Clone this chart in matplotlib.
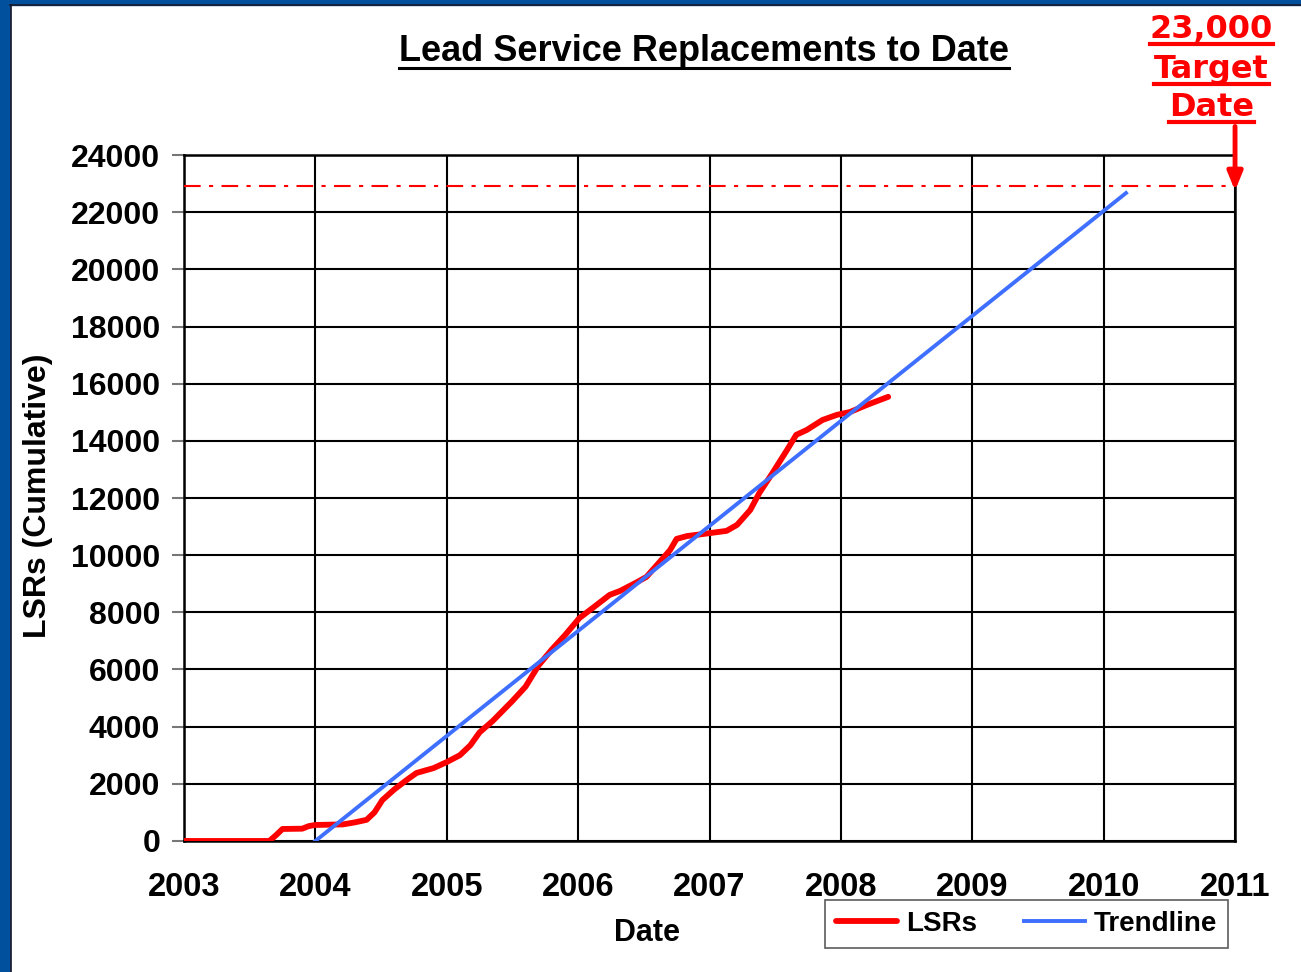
import matplotlib
matplotlib.use("Agg")
import matplotlib.pyplot as plt
from matplotlib.lines import Line2D
from matplotlib.patches import Rectangle

plt.rcParams['font.family'] = ['Liberation Sans', 'DejaVu Sans']
plt.rcParams['font.weight'] = 'bold'

# cumulative lead service replacements (decimal year, count)
lsr_year = [2003.0, 2003.5, 2003.65, 2003.7, 2003.75, 2003.9, 2003.95, 2004.0, 2004.21,
            2004.3, 2004.39, 2004.45, 2004.51, 2004.6, 2004.7, 2004.77, 2004.9, 2005.0, 2005.1,
            2005.18, 2005.25, 2005.35, 2005.5, 2005.6, 2005.7, 2005.8, 2005.9, 2006.01,
            2006.11, 2006.24, 2006.32, 2006.45, 2006.52, 2006.62, 2006.7, 2006.75, 2006.83,
            2006.95, 2007.13, 2007.21, 2007.31, 2007.38, 2007.48, 2007.59, 2007.66, 2007.74,
            2007.86, 2007.97, 2008.07, 2008.2, 2008.36]
lsr_count = [0, 0, 0, 200, 420, 430, 520, 560, 580,
             650, 740, 1000, 1430, 1800, 2150, 2380, 2550, 2760, 3000,
             3350, 3800, 4200, 4900, 5400, 6150, 6700, 7200, 7800,
             8150, 8610, 8750, 9060, 9240, 9760, 10180, 10570, 10670,
             10740, 10850, 11060, 11580, 12180, 12880, 13680, 14210, 14380,
             14730, 14910, 15010, 15260, 15540]

# linear trendline end points
trend_year = [2004.0, 2010.17]
trend_count = [0, 22670]

target_value = 22900
year_ticks = list(range(2003, 2012))
count_ticks = list(range(0, 24001, 2000))

fig = plt.figure(figsize=(13.01, 9.72), dpi=100)
ax = fig.add_axes([0.1414, 0.1348, 0.8079, 0.7057])

ax.plot(lsr_year, lsr_count, color='#ff0000', lw=4.2, label='LSRs', zorder=4,
        solid_capstyle='round', solid_joinstyle='round')
ax.plot(trend_year, trend_count, color='#3f6fff', lw=2.8, label='Trendline', zorder=5)
ax.axhline(target_value, color='#ff0000', lw=1.5, ls=(0, (8, 4, 2, 4)), zorder=3)

ax.set_xlim(2003, 2011)
ax.set_ylim(0, 24000)
ax.set_xticks(year_ticks)
ax.set_yticks(count_ticks)
ax.set_xticklabels([str(y) for y in year_ticks])
ax.set_yticklabels([str(c) for c in count_ticks])
ax.grid(True, color='black', lw=1.5)
ax.set_axisbelow(True)
for s in ax.spines.values():
    s.set_color('black')
    s.set_linewidth(1.8)
ax.tick_params(axis='x', length=0, pad=22, labelsize=23.5)
ax.tick_params(axis='y', length=9, width=1.5, color='#777777', pad=8, labelsize=23)

ax.set_xlabel('Date', fontsize=22, fontweight='bold')
ax.xaxis.set_label_coords(0.4405, -0.113)
ax.set_ylabel('LSRs (Cumulative)', fontsize=23, fontweight='bold', va='center')
ax.yaxis.set_label_coords(-0.139, 0.503)

leg = ax.legend(loc='upper left', bbox_to_anchor=(0.61, -0.086), ncol=2, fontsize=20,
                frameon=True, fancybox=False, edgecolor='black', handlelength=2.2,
                columnspacing=1.7, borderpad=0.4, handletextpad=0.3, borderaxespad=0)
leg.get_frame().set_linewidth(1.2)
leg.get_frame().set_edgecolor('#333333')

title = fig.text(0.5415, 0.947, 'Lead Service Replacements to Date', ha='center', va='center',
                 fontsize=26, fontweight='bold')

target_lines = ['23,000', 'Target', 'Date']
target_y = [0.970, 0.929, 0.889]
target_texts = []
for t, y in zip(target_lines, target_y):
    target_texts.append(fig.text(0.931, y, t, ha='center', va='center', color='#ff0000',
                                 fontsize=23, fontweight='bold', family='DejaVu Sans'))

ax.annotate('', xy=(2011, target_value - 150), xycoords='data',
            xytext=(2011, 25000), textcoords='data',
            arrowprops=dict(arrowstyle='-|>,head_width=0.45,head_length=1.1', color='#ff0000',
                            lw=3.5, shrinkA=0, shrinkB=0), annotation_clip=False)

# blue slide border on the left and top
fig.patches.append(Rectangle((0, 0), 10 / 1301, 1, transform=fig.transFigure,
                             color='#00509e', zorder=0))
fig.patches.append(Rectangle((0, 1 - 5 / 972), 1, 5 / 972, transform=fig.transFigure,
                             color='#00509e', zorder=0))
fig.lines.append(Line2D([10.5 / 1301, 10.5 / 1301], [0, 1 - 5 / 972], transform=fig.transFigure,
                        color='#1a1a2a', lw=1.2))
fig.lines.append(Line2D([10 / 1301, 1], [1 - 5.5 / 972, 1 - 5.5 / 972], transform=fig.transFigure,
                        color='#1a1a2a', lw=1.2))

# underline the title and target text
fig.canvas.draw()
r = fig.canvas.get_renderer()
W, H = fig.bbox.width, fig.bbox.height
for txt, col, lw in [(title, 'black', 2.2)] + [(t, '#ff0000', 3.0) for t in target_texts]:
    bb = txt.get_window_extent(r)
    yl = bb.y0 + 1
    fig.lines.append(Line2D([bb.x0 / W, bb.x1 / W], [yl / H, yl / H], transform=fig.transFigure,
                            color=col, lw=lw))

fig.savefig('out.png', dpi=100)
